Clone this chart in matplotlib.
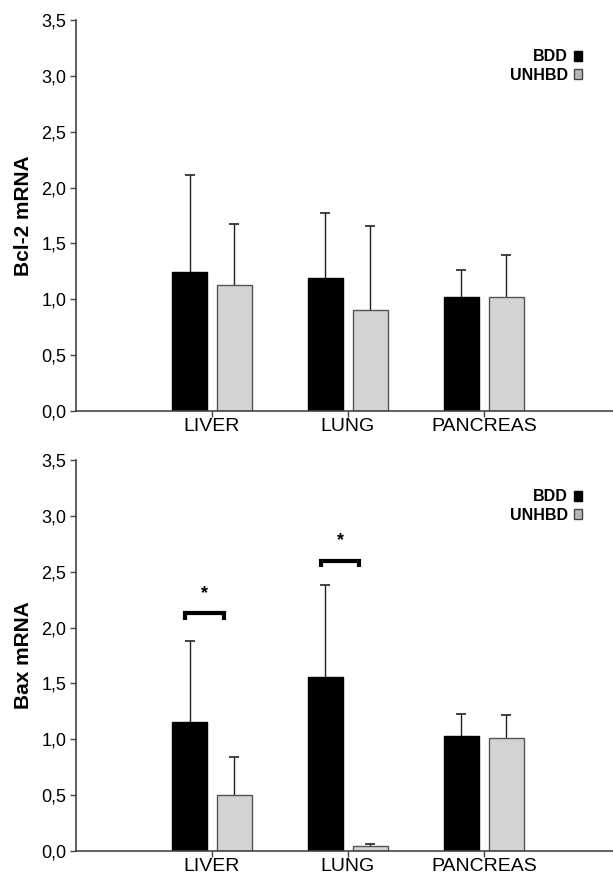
import numpy as np
import matplotlib
matplotlib.use('Agg')
import matplotlib.pyplot as plt
from matplotlib.patches import Patch

plt.rcParams['font.family'] = ['Liberation Sans', 'DejaVu Sans']

categories = ['LIVER', 'LUNG', 'PANCREAS']
groups = ['BDD', 'UNHBD']

bcl2_bdd = [1.24, 1.19, 1.02]
bcl2_bdd_err = [0.87, 0.58, 0.24]
bcl2_unhbd = [1.13, 0.90, 1.02]
bcl2_unhbd_err = [0.54, 0.76, 0.38]

bax_bdd = [1.15, 1.56, 1.03]
bax_bdd_err = [0.73, 0.82, 0.20]
bax_unhbd = [0.50, 0.04, 1.01]
bax_unhbd_err = [0.34, 0.02, 0.21]

# significance marks on Bax panel: (category index, bracket height)
sig_marks = [(0, 2.13), (1, 2.60)]

yticks = [0.0, 0.5, 1.0, 1.5, 2.0, 2.5, 3.0, 3.5]
ytick_labels = ['0,0', '0,5', '1,0', '1,5', '2,0', '2,5', '3,0', '3,5']

colors = ['#000000', '#d3d3d3']
edges = ['#000000', '#555555']

fig = plt.figure(figsize=(6.13, 8.77), dpi=100)
ax1 = fig.add_axes([0.124, 0.5314, 0.876, 0.4458])
ax2 = fig.add_axes([0.124, 0.0297, 0.876, 0.4458])

x = np.arange(1, len(categories) + 1)
w = 0.257
off = 0.165


def draw_panel(ax, bdd, bdd_err, unhbd, unhbd_err, ylabel):
    for i, (vals, errs) in enumerate([(bdd, bdd_err), (unhbd, unhbd_err)]):
        pos = x + (-off if i == 0 else off)
        ax.bar(pos, vals, width=w, color=colors[i], edgecolor=edges[i], linewidth=1.0, zorder=2)
        eb = ax.errorbar(pos, vals, yerr=[np.zeros(len(vals)), errs], fmt='none',
                         ecolor='#222222', elinewidth=1.0, capsize=3.3, capthick=1.2, zorder=1)
        eb[1][0].set_visible(False)  # no cap at bar top
    ax.set_xlim(0, 3.95)
    ax.set_ylim(0, 3.5)
    ax.set_xticks(x)
    ax.set_xticklabels(categories, fontsize=14)
    ax.set_yticks(yticks)
    ax.set_yticklabels(ytick_labels, fontsize=13)
    ax.set_ylabel(ylabel, fontsize=15, fontweight='bold', labelpad=6)
    for s in ['top', 'right']:
        ax.spines[s].set_visible(False)
    for s in ['left', 'bottom']:
        ax.spines[s].set_color('#444444')
        ax.spines[s].set_linewidth(1.2)
    ax.tick_params(axis='both', direction='out', length=4, width=1.0, color='#444444', pad=3)
    ax.tick_params(axis='x', pad=1)
    handles = [Patch(facecolor=c, edgecolor=e) for c, e in zip(['#000000', '#b8b8b8'], ['#000000', '#444444'])]
    ax.legend(handles, groups, loc='upper right', bbox_to_anchor=(0.958, 0.945), frameon=False,
              markerfirst=False, handlelength=0.55, handleheight=0.55, handletextpad=0.35,
              labelspacing=0.2, borderpad=0, prop={'weight': 'bold', 'size': 11.5})


draw_panel(ax1, bcl2_bdd, bcl2_bdd_err, bcl2_unhbd, bcl2_unhbd_err, 'Bcl-2 mRNA')
draw_panel(ax2, bax_bdd, bax_bdd_err, bax_unhbd, bax_unhbd_err, 'Bax mRNA')

for ci, h in sig_marks:
    x0 = x[ci] - 0.2
    x1 = x[ci] + 0.085
    ax2.plot([x0, x0, x1, x1], [h - 0.06, h, h, h - 0.06], color='black',
             linewidth=3, solid_joinstyle='miter', solid_capstyle='butt')
    ax2.text((x0 + x1) / 2, h + 0.1, '*', ha='center', va='bottom', fontsize=13, fontweight='bold')

plt.savefig('out.png', dpi=100)
